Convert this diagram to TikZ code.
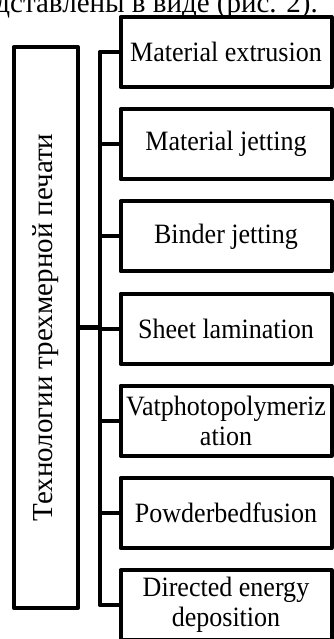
\documentclass[tikz,border=0pt]{standalone}
\usepackage{fontspec}
\setmainfont{Liberation Serif}
\newfontfamily\boxfont[FakeStretch=0.93]{Liberation Serif}
\begin{document}
\begin{tikzpicture}[x=1pt,y=-1pt,line join=round,
  cyr/.style={font=\fontsize{29}{32}\selectfont},
  techbox/.style={draw,line width=4pt,minimum width=211pt,minimum height=70pt,
    inner sep=0pt,align=center,font=\boxfont\fontsize{28}{30}\selectfont},
  mainbox/.style={draw,line width=4pt,minimum width=64.3pt,minimum height=561pt,inner sep=0pt},
  link/.style={line width=4pt}]
\useasboundingbox (0,0) rectangle (334,639);
\clip (0,0) rectangle (334,639);

% tail of the preceding sentence
\node[cyr,anchor=base east,inner sep=0pt] (prev) at (318,13) {дставлены в виде (рис. 2).};

% left group box with vertical title
\node[mainbox] (group) at (45.85,327.5) {};
\node[cyr,rotate=90,inner sep=0pt] (title) at (group.center) {Технологии трехмерной печати};

% technology boxes
\node[techbox] (b1) at (226,52)    {Material extrusion};
\node[techbox] (b2) at (226,144.2) {Material jetting};
\node[techbox] (b3) at (226,236.4) {Binder jetting};
\node[techbox] (b4) at (226,328.6) {Sheet lamination};
\node[techbox] (b5) at (226,420.8) {Vatphotopolymeriz\\ation};
\node[techbox] (b6) at (226,513)   {Powderbedfusion};
\node[techbox] (b7) at (226,605.2) {Directed energy\\deposition};

% trunk and branches
\coordinate (trunk) at (99.7,0);
\draw[link] (b1.west) -- (b1.west -| trunk) -- (b7.west -| trunk) -- (b7.west);
\foreach \b in {b2,b3,b4,b5,b6}
  \draw[link] (\b.west) -- (\b.west -| trunk);
\draw[line width=5.5pt] (group.east) -- (group.east -| trunk);
\end{tikzpicture}
\end{document}
